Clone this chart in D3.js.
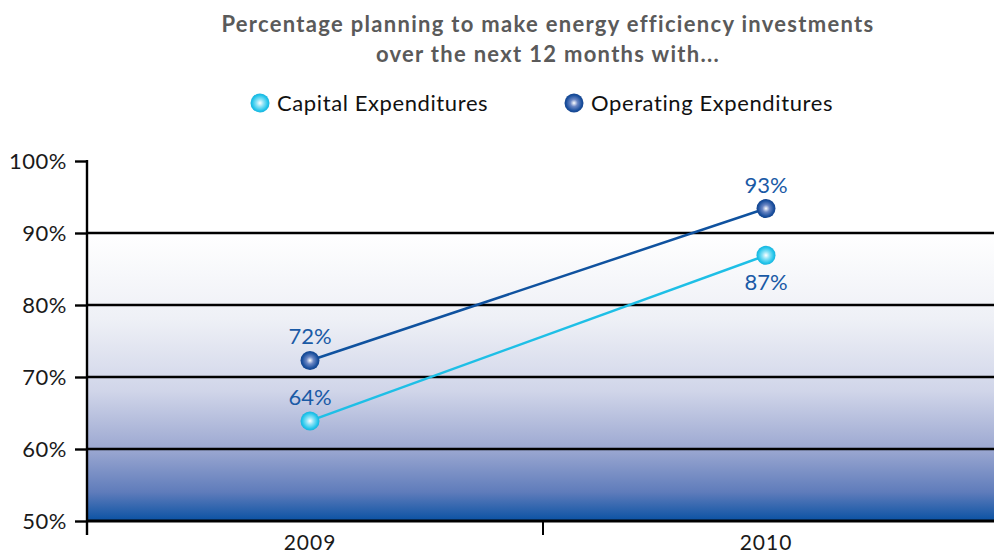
<!DOCTYPE html>
<meta charset="utf-8">
<script src="https://d3js.org/d3.v7.min.js"></script>
<style>
  body { margin: 0; background: #fff; }
  text { font-family: Lato, "Open Sans", sans-serif; }
</style>
<div id="my_dataviz"></div>
<script>
  // data
  var years = ["2009", "2010"];
  var capital = [63.9, 86.9];
  var operating = [72.3, 93.4];
  var capitalLabels = ["64%", "87%"];
  var operatingLabels = ["72%", "93%"];
  var yTicks = [50, 60, 70, 80, 90, 100];
  var seriesNames = ["Capital Expenditures", "Operating Expenditures"];

  var W = 994, H = 557;
  var margin = {top: 161, right: -5, bottom: 36, left: 87},
      width = W - margin.left - margin.right,
      height = H - margin.top - margin.bottom;

  var svgRoot = d3.select("#my_dataviz").append("svg")
      .attr("width", W).attr("height", H);
  var defs = svgRoot.append("defs");

  // background fade below 90%
  var bg = defs.append("linearGradient").attr("id", "bg")
      .attr("x1", 0).attr("y1", 0).attr("x2", 0).attr("y2", 1);
  bg.append("stop").attr("offset", "0%").attr("stop-color", "#ffffff");
  bg.append("stop").attr("offset", "30%").attr("stop-color", "#eef0f6");
  bg.append("stop").attr("offset", "55%").attr("stop-color", "#d0d5e9");
  bg.append("stop").attr("offset", "75%").attr("stop-color", "#9ca8d1");
  bg.append("stop").attr("offset", "90%").attr("stop-color", "#5f7cbb");
  bg.append("stop").attr("offset", "100%").attr("stop-color", "#0a52a3");

  function ball(id, c0, c1, c2) {
    var g = defs.append("radialGradient").attr("id", id)
        .attr("cx", "50%").attr("cy", "50%").attr("r", "55%");
    g.append("stop").attr("offset", "0%").attr("stop-color", "#ffffff");
    g.append("stop").attr("offset", "35%").attr("stop-color", c0);
    g.append("stop").attr("offset", "75%").attr("stop-color", c1);
    g.append("stop").attr("offset", "100%").attr("stop-color", c2);
  }
  ball("capBall", "#8ae2f6", "#22c4ea", "#14a9d6");
  ball("opBall", "#6a86c4", "#1a4f9d", "#123f86");

  var svg = svgRoot.append("g")
      .attr("transform", "translate(" + margin.left + "," + margin.top + ")");

  var x = d3.scaleBand().domain(years).range([0, width]);
  var y = d3.scaleLinear().domain([50, 100]).range([height, 0]);

  svg.append("rect")
      .attr("x", 0).attr("y", y(90))
      .attr("width", width).attr("height", y(50) - y(90))
      .attr("fill", "url(#bg)");

  // gridlines
  svg.selectAll(".grid").data(yTicks.filter(function(d) { return d > 50 && d < 100; }))
    .enter().append("line")
      .attr("x1", 0).attr("x2", width)
      .attr("y1", function(d) { return y(d); }).attr("y2", function(d) { return y(d); })
      .attr("stroke", "#000").attr("stroke-width", 2.4);

  // y axis
  var yAxis = svg.append("g")
      .call(d3.axisLeft(y).tickValues(yTicks).tickFormat(function(d) { return d + "%"; })
        .tickSize(12).tickPadding(8));
  yAxis.select(".domain").remove();
  yAxis.selectAll("line").attr("stroke", "#000").attr("stroke-width", 2.4);
  yAxis.selectAll("text").attr("font-size", 22).attr("fill", "#1a1a1a")
      .attr("font-family", "Lato, sans-serif").attr("letter-spacing", 0.5);
  svg.append("line").attr("x1", 0).attr("x2", 0).attr("y1", y(100) - 1).attr("y2", height + 14)
      .attr("stroke", "#000").attr("stroke-width", 2.4);

  // x axis
  var xAxis = svg.append("g").attr("transform", "translate(0," + height + ")")
      .call(d3.axisBottom(x).tickSize(0).tickPadding(14));
  xAxis.select(".domain").remove();
  xAxis.selectAll("text").attr("font-size", 21).attr("fill", "#1a1a1a")
      .attr("font-family", "Lato, sans-serif").attr("letter-spacing", 1)
      .attr("transform", "translate(-5,0)");
  svg.append("line").attr("x1", 0).attr("x2", width).attr("y1", height).attr("y2", height)
      .attr("stroke", "#000").attr("stroke-width", 3);
  svg.selectAll(".xtick").data(years.concat(["end"]))
    .enter().append("line")
      .attr("x1", function(d, i) { return i * x.bandwidth(); })
      .attr("x2", function(d, i) { return i * x.bandwidth(); })
      .attr("y1", height).attr("y2", height + 14)
      .attr("stroke", "#000").attr("stroke-width", 2);

  var cx = function(i) { return x(years[i]) + x.bandwidth() / 2 - 5; };

  function series(vals, labels, color, ballId, above) {
    var line = d3.line().x(function(d, i) { return cx(i); }).y(function(d) { return y(d); });
    svg.append("path").datum(vals).attr("d", line)
        .attr("fill", "none").attr("stroke", color).attr("stroke-width", 2.5);
    svg.selectAll(null).data(vals).enter().append("circle")
        .attr("cx", function(d, i) { return cx(i); })
        .attr("cy", function(d) { return y(d); })
        .attr("r", 9.5).attr("fill", "url(#" + ballId + ")");
    svg.selectAll(null).data(vals).enter().append("text")
        .attr("x", function(d, i) { return cx(i); })
        .attr("y", function(d, i) { return y(d) + (above[i] ? -16 : 35); })
        .attr("text-anchor", "middle").attr("font-size", 22).attr("fill", "#1a5aa6")
        .text(function(d, i) { return labels[i]; });
  }
  series(operating, operatingLabels, "#0f529f", "opBall", [true, true]);
  series(capital, capitalLabels, "#1ebfe6", "capBall", [true, false]);

  // title
  var title = svgRoot.append("text").attr("x", 548).attr("text-anchor", "middle")
      .attr("font-size", 22).attr("font-weight", "bold").attr("fill", "#5a5a5a")
      .attr("letter-spacing", 1.3);
  title.append("tspan").attr("x", 548).attr("y", 32)
      .text("Percentage planning to make energy efficiency investments");
  title.append("tspan").attr("x", 548).attr("y", 62).text("over the next 12 months with...");

  // legend
  var legend = [
    {name: seriesNames[0], ball: "capBall", x: 260},
    {name: seriesNames[1], ball: "opBall", x: 574}
  ];
  var lg = svgRoot.selectAll(".lg").data(legend).enter().append("g")
      .attr("transform", function(d) { return "translate(" + d.x + ",103)"; });
  lg.append("circle").attr("r", 9.5).attr("fill", function(d) { return "url(#" + d.ball + ")"; });
  lg.append("text").attr("x", 17).attr("y", 8).attr("font-size", 22).attr("fill", "#111")
      .attr("letter-spacing", 0.6)
      .text(function(d) { return d.name; });
</script>
